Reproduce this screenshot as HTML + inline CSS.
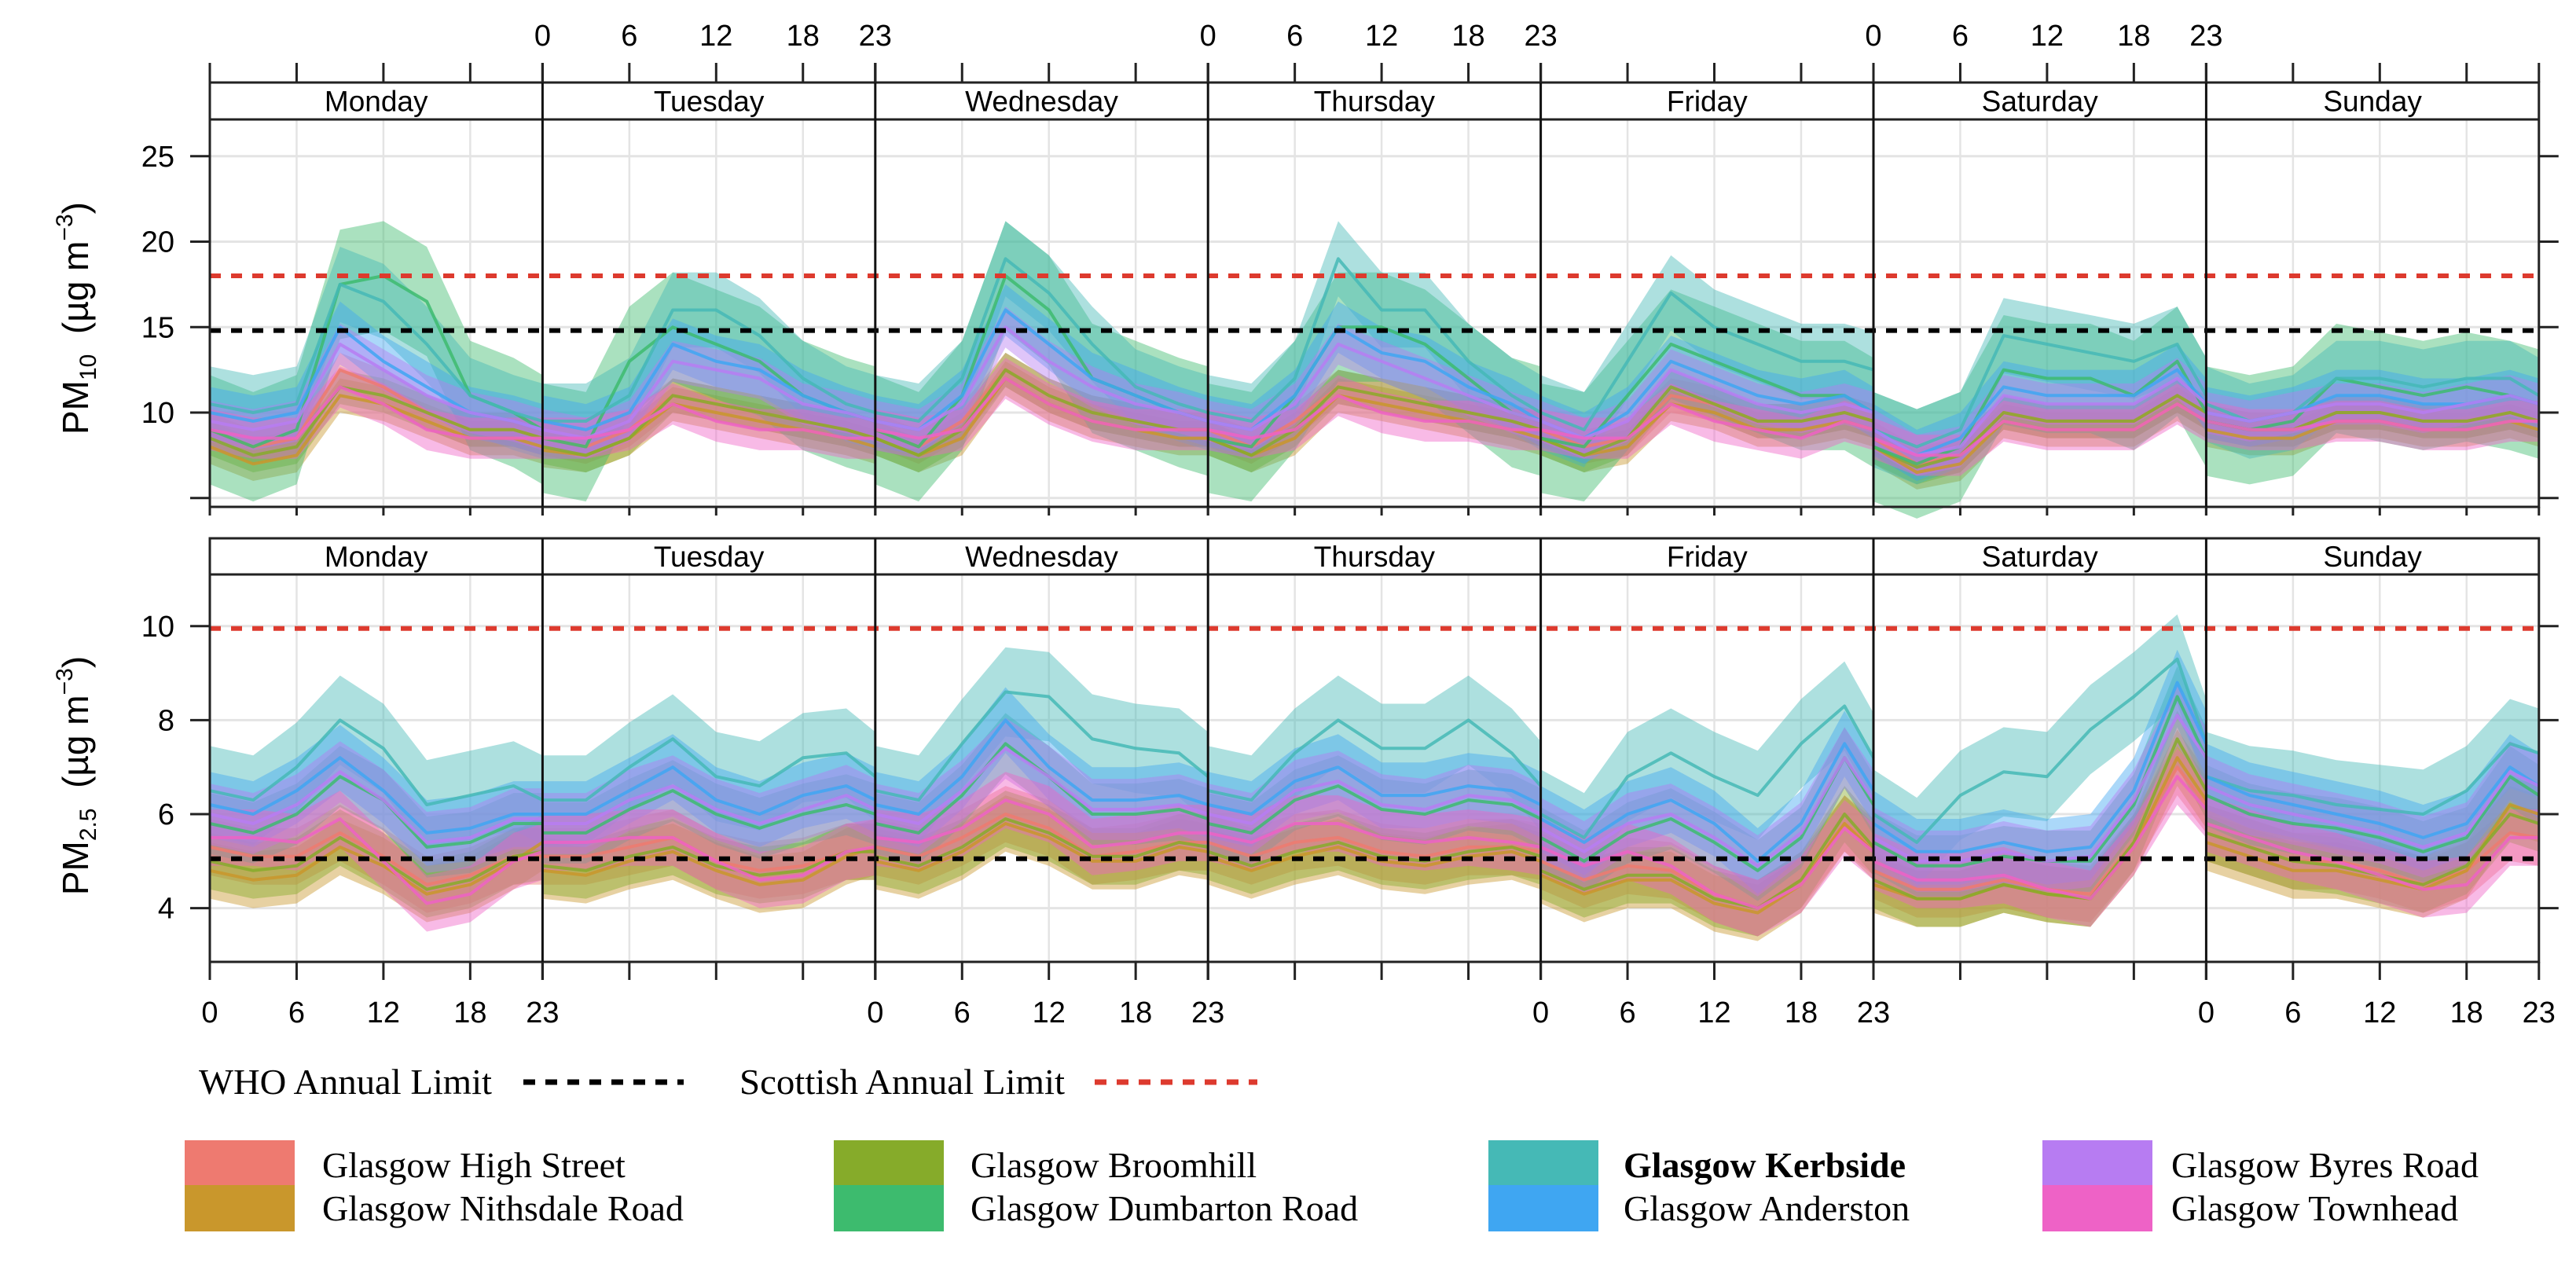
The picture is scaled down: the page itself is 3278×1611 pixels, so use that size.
<!DOCTYPE html>
<html><head><meta charset="utf-8"><style>
html,body{margin:0;padding:0;background:#fff;}
svg{display:block;}
.ax{font-family:"Liberation Sans",Arial,sans-serif;}
.lg{font-family:"Liberation Serif","Times New Roman",serif;}
</style></head><body>
<svg id="chart" width="3278" height="1611" viewBox="0 0 3278 1611" xmlns="http://www.w3.org/2000/svg">
<g id="grid"></g>
<g id="bands"></g>
<g id="lines"></g>
<g id="refs"></g>
<g id="frame"></g>
<g id="labels" class="ax"></g>
<text class="ax" transform="translate(112,405) rotate(-90)" text-anchor="middle" font-size="46" fill="#000">PM<tspan font-size="30" dy="10">10</tspan><tspan dy="-10" xml:space="preserve">  (µg m</tspan><tspan font-size="30" dy="-20">−3</tspan><tspan dy="20">)</tspan></text>
<text class="ax" transform="translate(112,987) rotate(-90)" text-anchor="middle" font-size="46" fill="#000">PM<tspan font-size="30" dy="10">2.5</tspan><tspan dy="-10" xml:space="preserve">  (µg m</tspan><tspan font-size="30" dy="-20">−3</tspan><tspan dy="20">)</tspan></text>
<g class="lg" font-size="46">
<text x="253" y="1392" textLength="373" lengthAdjust="spacingAndGlyphs">WHO Annual Limit</text>
<line x1="666" y1="1377" x2="870" y2="1377" stroke="#000" stroke-width="7" stroke-dasharray="15,13"/>
<text x="941" y="1392" textLength="414" lengthAdjust="spacingAndGlyphs">Scottish Annual Limit</text>
<line x1="1393" y1="1377" x2="1600" y2="1377" stroke="#dd3a2e" stroke-width="7" stroke-dasharray="15,13"/>
</g>
<g id="sitelegend" class="lg" font-size="46"></g>
</svg>
<script>
const days = ["Monday","Tuesday","Wednesday","Thursday","Friday","Saturday","Sunday"];
const hours = [0,3,6,9,12,15,18,21,23];
const sites = ["Glasgow High Street","Glasgow Nithsdale Road","Glasgow Broomhill","Glasgow Dumbarton Road","Glasgow Kerbside","Glasgow Anderston","Glasgow Byres Road","Glasgow Townhead"];
const colors = ["#ee7a70","#c9972c","#86ab2a","#3dbb6e","#45b9b6","#3fa6f2","#b77cf2","#ee62c6"];
const pm10Width = [1.0,1.0,1.0,3.2,2.2,1.5,1.2,1.2];
const pm25Width = [0.6,0.6,0.6,0.65,0.95,0.7,0.65,0.6];
const pm10Ticks = [5,10,15,20,25];
const pm25Ticks = [4,6,8,10];
const limitsPM10 = [14.8,18];
const limitsPM25 = [5.05,9.95];
const pm10HighSt = [
 9,8,8.5,12.5,11.5,10,9,9,8.5, 8.5,8,9,11,10.5,10,9.5,9,8.5, 9,8,9.5,12.5,11,10,9.5,9,9,
 9,8,9.5,11.5,11,10.5,10,9.5,9, 9,8,8.5,11,10.5,9.5,9.5,10,9.5, 8.5,7,7.5,10,9.5,9.5,9.5,11,10, 9.5,9,9,10,10,9.5,9.5,10,9.5];
const pm10Nith = [
 8,7,7.5,11,10.5,9.5,8.5,8.5,8, 7.8,7.5,8.5,10.5,10,9.5,9,8.5,8, 8.5,7.5,8.5,12,10.5,9.5,9,8.5,8.5,
 8.5,7.5,8.5,11,10.5,10,9.5,9,8.5, 8.5,7.5,8,10.5,10,9,9,9.5,9, 8,6.5,7,9.5,9,9,9,10.5,9.5, 9,8.5,8.5,9.5,9.5,9,9,9.5,9];
const pm10Broom = [
 8.5,7.5,8,11.5,11,10,9,9,8.5, 8,7.5,8.5,11,10.5,10,9.5,9,8.5, 8.5,7.5,9,12.5,11,10,9.5,9,9,
 8.5,7.5,9,11.5,11,10.5,10,9.5,9, 8.5,7.5,8.5,11.5,10.5,9.5,9.5,10,9.5, 8,6.8,7.5,10,9.5,9.5,9.5,11,10, 9.5,9,9,10,10,9.5,9.5,10,9.5];
const pm10Dumbarton = [
 9,8,9,17.5,18,16.5,11,10,9, 8.5,8,13,15,14,13,11,10,9.5, 9,8,11,18,16,12,11,10,9.5,
 8.5,8,11,15,15,14,12,10,9.5, 8.5,8,11,14,13,12,11,11,10, 8,7,8,12.5,12,12,11,13,10, 9.5,9,9.5,12,11.5,11,11.5,11,10.5];
const pm10Kerbside = [
 10.5,10,10.5,17.5,16.5,14,11,10,9.5, 9.5,9.5,11,16,16,14.5,12,10.5,10, 10,9.5,12,19,17,14,11.5,10.5,10,
 10,9.5,12,19,16,16,13,11,10, 10,9,13,17,15,14,13,13,12.5, 9,8,9,14.5,14,13.5,13,14,11, 10.5,9.5,10,12,12,11.5,12,12,11];
const pm10Anderston = [
 10,9.5,10,15,13,11.5,10,9.5,9, 9.5,9,10,14,13,12.5,11,10,9.5, 9.5,9,11,16,14,12,11,10,9.5,
 9.5,9,11,15,13.5,13,11.5,10.5,9.5, 9.5,8.5,10,13,12,11,10.5,11,10, 9,7.5,8.5,11.5,11,11,11,12.5,10.5, 10,9.5,10,11,11,10.5,10.5,11,10.5];
const pm10Byres = [
 9.5,9,9.5,14,12.5,11,10,9.5,9, 9,8.5,9.5,13,12.5,12,10.5,10,9.5, 9.5,9,10.5,15,13,11.5,10.5,10,9.5,
 9.5,9,10.5,14,13,12,11,10,9.5, 9.5,8.5,9.5,12.5,11.5,10.5,10,10.5,10, 9,7.5,8,11,10.5,10.5,10.5,12,10.5, 10,9.5,10,10.5,10.5,10,10.5,11,10.5];
const pm10Townhead = [
 9,8.5,8.5,11.5,10.5,9,8.5,8.5,8.5, 8.5,8.5,9,10.5,9.5,9,9,8.5,8.5, 9,8.5,9,12,10.5,9.5,9,9,9,
 9,8.5,9,11,10,9.5,9.5,9,9, 9,8.5,8.5,10.5,9.5,9,8.5,9.5,9, 8.5,7.5,7.5,9.5,9,9,9,10.5,9.5, 9.5,9,9,9.5,9.5,9,9,9.5,9.5];
const pm25HighSt = [
 5.3,5.1,5.1,5.6,5.1,4.5,4.7,5.1,5.1, 5.1,5.1,5.3,5.5,5,4.8,4.9,5.2,5.2, 5.3,5.1,5.5,6,5.7,5.1,5.2,5.4,5.4,
 5.4,5.1,5.4,5.5,5.2,5.1,5.3,5.3,5.2, 5,4.6,4.9,4.8,4.3,4,4.6,5.8,5.3, 4.8,4.4,4.4,4.6,4.4,4.3,5.4,7,6.2, 5.6,5.3,5,5,4.8,4.5,4.8,5.6,5.5];
const pm25Nith = [
 4.8,4.6,4.7,5.3,4.9,4.3,4.5,5,5.4, 4.8,4.7,5,5.2,4.8,4.5,4.6,5.1,5.3, 5,4.8,5.2,5.8,5.5,5,5,5.3,5.2,
 5.1,4.8,5.1,5.3,5,4.9,5.1,5.2,5, 4.7,4.3,4.6,4.6,4.1,3.9,4.5,5.8,5.2, 4.5,4.2,4.2,4.5,4.3,4.2,5.3,7.2,6.3, 5.4,5.1,4.8,4.8,4.6,4.4,4.8,6.2,6];
const pm25Broom = [
 5,4.8,4.9,5.5,5,4.4,4.6,5.1,5.2, 4.9,4.8,5.1,5.3,4.9,4.7,4.8,5.2,5.2, 5.1,4.9,5.3,5.9,5.6,5.1,5.1,5.4,5.3,
 5.2,4.9,5.2,5.4,5.1,5,5.2,5.3,5.1, 4.8,4.4,4.7,4.7,4.2,4,4.6,6,5.3, 4.6,4.2,4.2,4.5,4.3,4.2,5.4,7.6,6.5, 5.6,5.3,5,4.9,4.7,4.5,4.9,6,5.8];
const pm25Dumbarton = [
 5.8,5.6,6,6.8,6.3,5.3,5.4,5.8,5.8, 5.6,5.6,6.1,6.5,6,5.7,6,6.2,6, 5.8,5.6,6.4,7.5,6.8,6,6,6.1,5.9,
 5.8,5.6,6.3,6.6,6.1,6,6.3,6.2,5.9, 5.5,5,5.6,5.9,5.4,4.8,5.5,7.2,6.2, 5.4,4.9,4.9,5.1,5,5,6.2,8.5,7.2, 6.4,6,5.8,5.7,5.5,5.2,5.5,6.8,6.4];
const pm25Kerbside = [
 6.5,6.3,7,8,7.4,6.2,6.4,6.6,6.3, 6.3,6.3,7,7.6,6.8,6.6,7.2,7.3,6.8, 6.5,6.3,7.5,8.6,8.5,7.6,7.4,7.3,6.8,
 6.5,6.3,7.3,8,7.4,7.4,8,7.3,6.6, 6,5.5,6.8,7.3,6.8,6.4,7.5,8.3,7.2, 6,5.4,6.4,6.9,6.8,7.8,8.5,9.3,7.5, 6.8,6.5,6.4,6.2,6.1,6,6.5,7.5,7.3];
const pm25Anderston = [
 6.2,6,6.5,7.2,6.5,5.6,5.7,6,6, 6,6,6.5,7,6.3,6,6.4,6.6,6.3, 6.2,6,6.8,8,7,6.3,6.3,6.4,6.2,
 6.2,6,6.7,7,6.4,6.4,6.6,6.5,6.2, 5.9,5.4,6,6.3,5.8,5,5.8,7.5,6.5, 5.8,5.2,5.2,5.4,5.2,5.3,6.5,8.8,7.5, 6.8,6.4,6.2,6,5.8,5.5,5.8,7,6.6];
const pm25Byres = [
 6,5.8,6.2,6.9,6.3,5.4,5.5,5.9,5.9, 5.8,5.8,6.3,6.6,6.1,5.8,6.1,6.4,6.1, 6,5.8,6.5,7.4,6.8,6.1,6.1,6.2,6,
 6,5.8,6.5,6.7,6.2,6.1,6.4,6.3,6, 5.7,5.2,5.8,6,5.5,4.9,5.6,7.2,6.3, 5.5,5,5,5.2,5,5.1,6.3,8.1,7.2, 6.6,6.2,6,5.8,5.6,5.3,5.6,6.9,6.6];
const pm25Townhead = [
 5.5,5.5,5.4,5.9,5,4.1,4.3,5,5.2, 5.4,5.4,5.5,5.5,5,4.6,4.7,5.2,5.3, 5.5,5.4,5.7,6.3,6,5.3,5.4,5.6,5.6,
 5.6,5.4,5.8,5.8,5.5,5.4,5.5,5.4,5.3, 5.3,4.9,5.2,4.9,4.3,4,4.5,5.7,5.2, 5,4.6,4.6,4.7,4.4,4.2,5.3,6.8,6.1, 5.8,5.5,5.2,5,4.7,4.4,4.5,5.5,5.5];

const pm10Series = [pm10HighSt,pm10Nith,pm10Broom,pm10Dumbarton,pm10Kerbside,pm10Anderston,pm10Byres,pm10Townhead];
const pm25Series = [pm25HighSt,pm25Nith,pm25Broom,pm25Dumbarton,pm25Kerbside,pm25Anderston,pm25Byres,pm25Townhead];

const NS = "http://www.w3.org/2000/svg";
const X0 = 267, DW = 423.4, HW = DW/23;
function xPos(d,h){ return X0 + d*DW + h*HW; }
const panels = [
 {name:"pm10", top:152, bottom:645, stripTop:105, y:v=>525-(v-10)*21.75, ticks:pm10Ticks, labelTicks:[10,15,20,25], series:pm10Series, widths:pm10Width, limits:limitsPM10},
 {name:"pm25", top:731, bottom:1224, stripTop:685, y:v=>1036-(v-6)*59.8, ticks:pm25Ticks, labelTicks:pm25Ticks, series:pm25Series, widths:pm25Width, limits:limitsPM25}
];
const R = X0 + 7*DW;
function mk(tag, attrs, parent){
  const e = document.createElementNS(NS, tag);
  for (const k in attrs) e.setAttribute(k, attrs[k]);
  parent.appendChild(e); return e;
}
const gGrid = document.getElementById('grid'), gBands = document.getElementById('bands'),
      gLines = document.getElementById('lines'), gRefs = document.getElementById('refs'),
      gFrame = document.getElementById('frame'), gLab = document.getElementById('labels');

panels.forEach((p, pi) => {
  p.ticks.forEach(t => {
    const l = mk('line', {x1:X0, x2:R, y1:p.y(t), y2:p.y(t), stroke:'#e4e4e4', 'stroke-width':3}, gGrid);
    
    
  });
  for (let d=0; d<7; d++) [6,12,18].forEach(h => {
    const l = mk('line', {x1:xPos(d,h), x2:xPos(d,h), y1:p.top, y2:p.bottom, stroke:'#e4e4e4', 'stroke-width':2.5}, gGrid);
    
    
  });
  p.series.forEach((arr, si) => {
    for (let d=0; d<7; d++) {
      const up = [], lo = [], mid = [];
      hours.forEach((h, hi) => {
        const v = arr[d*hours.length + hi];
        up.push(xPos(d,h).toFixed(1) + ',' + p.y(v + p.widths[si]).toFixed(1));
        lo.unshift(xPos(d,h).toFixed(1) + ',' + p.y(v - p.widths[si]).toFixed(1));
        mid.push(xPos(d,h).toFixed(1) + ',' + p.y(v).toFixed(1));
      });
      const b = mk('polygon', {points: up.concat(lo).join(' '), fill: colors[si], 'fill-opacity': 0.44}, gBands);
      
      
      const ln = mk('polyline', {points: mid.join(' '), fill:'none', stroke: colors[si], 'stroke-width':4, 'stroke-opacity':0.85, 'stroke-linejoin':'round'}, gLines);
      
      
    }
  });
  p.limits.forEach((v, li) => {
    const l = mk('line', {x1:X0, x2:R, y1:p.y(v), y2:p.y(v), stroke: li===0 ? '#000' : '#dd3a2e', 'stroke-width':6, 'stroke-dasharray':'14,13'}, gRefs);
    
    
  });
  const fr = mk('rect', {x:X0, y:p.stripTop, width:R-X0, height:p.bottom-p.stripTop, fill:'none', stroke:'#222', 'stroke-width':3}, gFrame);
  
  
  const sl = mk('line', {x1:X0, x2:R, y1:p.top, y2:p.top, stroke:'#222', 'stroke-width':3}, gFrame);
  
  
  for (let d=1; d<7; d++) {
    const y1 = pi===0 ? 80 : p.stripTop;
    const y2 = pi===1 ? 1247 : p.bottom;
    const l = mk('line', {x1:xPos(d,0), x2:xPos(d,0), y1:y1, y2:y2, stroke:'#111', 'stroke-width':3}, gFrame);
    
    
  }
  days.forEach((dn, d) => {
    const t = mk('text', {x: xPos(d,11.5), y: (p.stripTop+p.top)/2 + 13, 'text-anchor':'middle', 'font-size':37}, gLab);
    t.textContent = dn;
    
    
  });
  p.ticks.forEach(t => {
    const yy = p.y(t);
    const a = mk('line', {x1:242, x2:X0, y1:yy, y2:yy, stroke:'#222', 'stroke-width':3}, gFrame);
    
    
    const b = mk('line', {x1:R, x2:R+25, y1:yy, y2:yy, stroke:'#222', 'stroke-width':3}, gFrame);
    
    
  });
  p.labelTicks.forEach(t => {
    const tx = mk('text', {x:222, y:p.y(t)+13, 'text-anchor':'end', 'font-size':38}, gLab);
    tx.textContent = t;
    
    
  });
});

const xTickHours = [0,6,12,18,23];
for (let d=0; d<7; d++) {
  xTickHours.forEach(h => {
    const xx = xPos(d,h);
    const a = mk('line', {x1:xx, x2:xx, y1:80, y2:105, stroke:'#222', 'stroke-width':3}, gFrame);
    
    
    const b = mk('line', {x1:xx, x2:xx, y1:1224, y2:1247, stroke:'#222', 'stroke-width':3}, gFrame);
    
    
    const c = mk('line', {x1:xx, x2:xx, y1:645, y2:656, stroke:'#222', 'stroke-width':3}, gFrame);
    
    
  });
  if (d % 2 === 1) xTickHours.forEach(h => {
    const t = mk('text', {x:xPos(d,h), y:58, 'text-anchor':'middle', 'font-size':38}, gLab);
    t.textContent = h;
    
    
  });
  if (d % 2 === 0) xTickHours.forEach(h => {
    const t = mk('text', {x:xPos(d,h), y:1301, 'text-anchor':'middle', 'font-size':38}, gLab);
    t.textContent = h;
    
    
  });
}

const gL = document.getElementById('sitelegend');
const legX = [235, 1061, 1894, 2599];
const legTX = [410, 1235, 2066, 2763];
sites.forEach((s, i) => {
  const col = Math.floor(i/2), row = i%2;
  const r = mk('rect', {x:legX[col], y: row ? 1508 : 1451, width:140, height: row ? 59 : 57, fill: colors[i]}, gL);
  
  
  const t = mk('text', {x:legTX[col], y: row ? 1553 : 1498}, gL);
  if (s === "Glasgow Kerbside") t.setAttribute('font-weight', 'bold');
  t.textContent = s;
  
  
});
</script>
</body></html>
